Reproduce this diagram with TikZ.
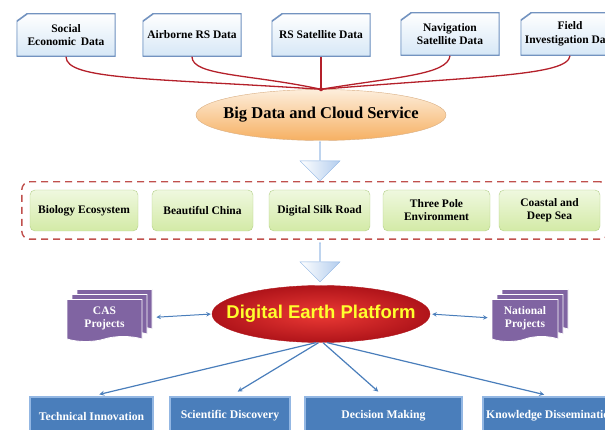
\documentclass[tikz,border=0pt]{standalone}
\usepackage{fontspec}
\setmainfont{Liberation Serif}
\newfontfamily\platformfont{Liberation Sans}
\usepackage{tikz}
\usetikzlibrary{shapes,shapes.arrows,shapes.symbols,arrows,fit,shadows}

\definecolor{srcfill}{HTML}{D6E7F6}
\definecolor{srcedge}{HTML}{7393C0}
\definecolor{feedred}{HTML}{B4202A}
\definecolor{cloudtop}{HTML}{FDEEDC}
\definecolor{cloudbot}{HTML}{F6B062}
\definecolor{cloudedge}{HTML}{D9AE82}
\definecolor{flowfill}{HTML}{B3CDEE}
\definecolor{flowedge}{HTML}{8DB3E2}
\definecolor{themetop}{HTML}{EFF8DF}
\definecolor{themebot}{HTML}{D3EAA6}
\definecolor{themeedge}{HTML}{B3CF88}
\definecolor{framered}{HTML}{C0504D}
\definecolor{projpurple}{HTML}{8064A2}
\definecolor{linkblue}{HTML}{4A7EBB}
\definecolor{outfill}{HTML}{4A7EBB}
\definecolor{outedge}{HTML}{93B7E3}
\definecolor{platin}{HTML}{EC3A35}
\definecolor{platout}{HTML}{B0141A}
\definecolor{platyellow}{HTML}{FFFF2E}

\tikzstyle{source} = [rectangle, minimum width=99pt, minimum height=43pt, inner sep=0pt, top color=white, bottom color=srcfill, text centered, align=center, font=\bfseries\fontsize{11.5}{13.5}\selectfont,
  path picture={
    \fill [white] (path picture bounding box.north west) -- ++(11pt,0pt) -- ++(-11pt,-8pt) -- cycle;
    \draw [srcedge, line width=1.6pt] ([xshift=11pt]path picture bounding box.north west) -- (path picture bounding box.north east) -- (path picture bounding box.south east) -- (path picture bounding box.south west) -- ([yshift=-8pt]path picture bounding box.north west) -- cycle;
  }]
\tikzstyle{cloud} = [ellipse, minimum width=250pt, minimum height=51pt, inner sep=0pt, draw=cloudedge, top color=cloudtop, bottom color=cloudbot, font=\bfseries\fontsize{16.5}{18}\selectfont]
\tikzstyle{bigarrow} = [single arrow, shape border rotate=270, minimum height=39pt, minimum width=40pt, single arrow head extend=5pt, inner sep=0pt, left color=white, right color=flowfill, draw=flowedge]
\tikzstyle{theme} = [rectangle, rounded corners=5pt, minimum height=41pt, draw=themeedge, top color=themetop, bottom color=themebot, text centered, align=center, font=\bfseries\fontsize{11.5}{13}\selectfont]
\tikzstyle{themeframe} = [rectangle, rounded corners=8pt, draw=framered, line width=1.4pt, dash pattern=on 7pt off 5pt, inner sep=8pt]
\tikzstyle{platform} = [ellipse, minimum width=218pt, minimum height=57pt, inner sep=0pt, draw=platout, inner color=platin, outer color=platout, text=platyellow, font=\platformfont\bfseries\fontsize{18.5}{20}\selectfont]
\tikzstyle{project} = [tape, tape bend top=none, tape bend bottom=in and out, minimum height=42pt, inner sep=0pt, fill=projpurple, draw=white, thick, text=white, align=center, font=\bfseries\fontsize{11.5}{13}\selectfont,
  copy shadow={shadow xshift=10pt, shadow yshift=10pt, fill=projpurple, draw=white, thick},
  copy shadow={shadow xshift=5pt, shadow yshift=5pt, fill=projpurple, draw=white, thick}]
\tikzstyle{outcome} = [rectangle, minimum height=38pt, fill=outfill, draw=outedge, line width=1.5pt, text=white, text centered, font=\bfseries\fontsize{11.7}{13}\selectfont]
\tikzstyle{feed} = [draw=feedred, line width=1.3pt]
\tikzstyle{link} = [draw=linkblue, line width=1pt, <->, >=stealth]
\tikzstyle{spread} = [draw=linkblue, line width=1.2pt, ->, >=stealth]

\begin{document}
\begin{tikzpicture}[x=1pt, y=-1pt]

\useasboundingbox (0,0) rectangle (605,430);
\clip (0,0) rectangle (605,430);

% data sources
\node(social)      [source] at (66,35)     {Social\\Economic\, Data};
\node(airborne)    [source] at (192,35)    {Airborne RS Data};
\node(rssat)       [source] at (321,35)    {RS Satellite Data};
\node(navsat)      [source] at (450,34)    {Navigation\\Satellite Data};
\node(field)       [source] at (570,34)    {Field\\Investigation Data};

\node(bigdata)     [cloud]  at (321,115)   {\makebox[0pt]{Big Data and Cloud Service}};
\coordinate (hub) at (bigdata.north);

\draw [feed] (social.south)   .. controls (66,80) and (150,78) .. (hub);
\draw [feed] (airborne.south) .. controls (192,76) and (250,74) .. (hub);
\draw [feed] (rssat.south)    -- (hub);
\draw [feed] (navsat.south)   .. controls (448,75) and (395,77) .. (hub);
\draw [feed] (field.south)    .. controls (568,76) and (480,76) .. (hub);
\fill [feedred] (hub) circle (2pt);

\node(down1)       [bigarrow] at (320,161) {};

% themes
\node(bio)         [theme, minimum width=108pt] at (84,210.5)    {Biology Ecosystem};
\node(china)       [theme, minimum width=101pt] at (202.5,210.5) {Beautiful China};
\node(silk)        [theme, minimum width=101pt] at (319.5,210.5) {Digital Silk Road};
\node(pole)        [theme, minimum width=107pt] at (436.5,210.5) {Three Pole\\Environment};
\node(coast)       [theme, minimum width=101pt] at (549.5,210.5) {Coastal and\\Deep Sea};
\node(themes)      [themeframe, fit=(bio)(coast)] {};

\node(down2)       [bigarrow] at (320,262) {};

% platform and projects
\node(dep)         [platform] at (321,314) {\makebox[0pt]{Digital Earth Platform}};
\node(cas)         [project, minimum width=75pt] at (104.5,318) {CAS\\Projects};
\node(national)    [project, minimum width=66pt] at (525,318)   {National\\Projects};

\draw [link, shorten <=14pt, shorten >=1pt] (cas.east) -- (dep.west);
\draw [link, shorten <=2pt, shorten >=4pt]  (dep.east) -- (national.west);

% outcomes
\node(tech)        [outcome, minimum width=123pt] at (91.5,416)  {Technical Innovation};
\node(sci)         [outcome, minimum width=120pt] at (230,416)   {Scientific Discovery};
\node(decision)    [outcome, minimum width=157pt] at (383.5,416) {Decision Making};
\node(knowledge)   [outcome, minimum width=132pt] at (551,416)   {Knowledge Dissemination};

\draw [spread, shorten >=8pt] (dep.-100) -- (tech.north);
\draw [spread, shorten >=9pt] (dep.-95)  -- (sci.north);
\draw [spread, shorten >=7pt] (dep.-86)  -- (decision.north);
\draw [spread, shorten >=7pt] (dep.-78)  -- (knowledge.north);

\end{tikzpicture}
\end{document}
